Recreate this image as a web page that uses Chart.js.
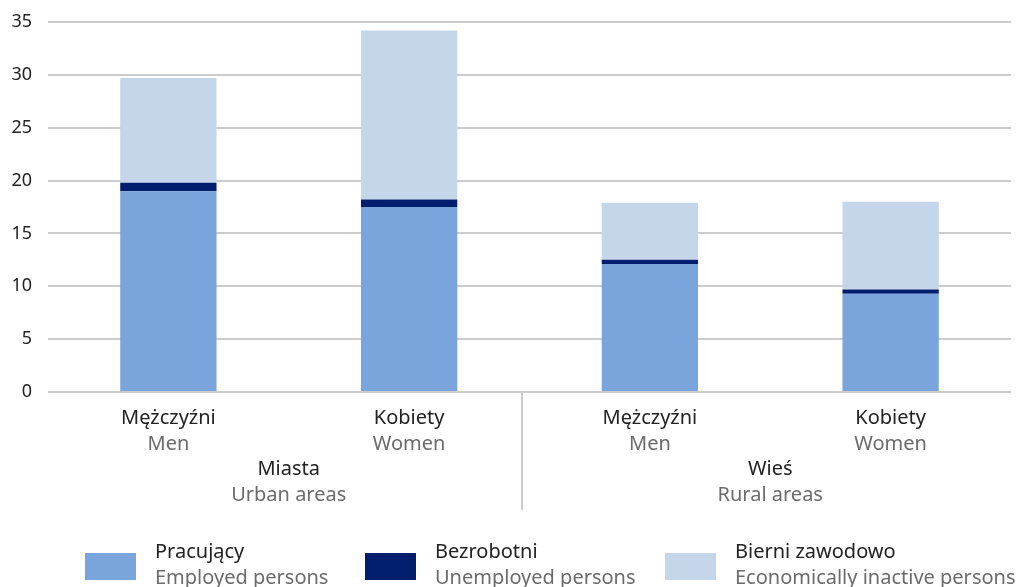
<!DOCTYPE html>
<html lang="pl">
<head>
<meta charset="UTF-8">
<title>Ludność według statusu na rynku pracy</title>
<script src="https://cdn.jsdelivr.net/npm/chart.js"></script>
<style>
  html, body { margin: 0; padding: 0; background: #fff; }
  #wrap { width: 1027px; height: 587px; }
</style>
</head>
<body>
<div id="wrap"><canvas id="myChart"></canvas></div>
<script>
// dane
const kategoriePl = ['Mężczyźni', 'Kobiety', 'Mężczyźni', 'Kobiety'];
const kategorieEn = ['Men', 'Women', 'Men', 'Women'];
const grupyPl = ['Miasta', 'Wieś'];
const grupyEn = ['Urban areas', 'Rural areas'];
const pracujacy = [19.0, 17.5, 12.1, 9.3];
const bezrobotni = [0.8, 0.7, 0.4, 0.4];
const bierni = [9.9, 16.0, 5.4, 8.3];
const seriePl = ['Pracujący', 'Bezrobotni', 'Bierni zawodowo'];
const serieEn = ['Employed persons', 'Unemployed persons', 'Economically inactive persons'];
const yTicks = [0, 5, 10, 15, 20, 25, 30, 35];

const kolory = ['#7aa4dc', '#001d6e', '#c5d6eb'];
const FONT = '"Noto Sans", "Open Sans", sans-serif';
const DARK = '#222222';
const GRAY = '#6b6b6b';

// podpisy osi X, separator grup i legenda
const podpisy = {
    id: 'podpisy',
    afterDraw(chart) {
        const ctx = chart.ctx;
        const x = chart.scales.x;
        const bottom = chart.chartArea.bottom;
        ctx.save();
        ctx.font = '20px ' + FONT;
        ctx.textAlign = 'center';
        ctx.textBaseline = 'middle';
        kategoriePl.forEach((k, i) => {
            const px = x.getPixelForValue(i);
            ctx.fillStyle = DARK;
            ctx.fillText(k, px, bottom + 26);
            ctx.fillStyle = GRAY;
            ctx.fillText(kategorieEn[i], px, bottom + 52);
        });
        grupyPl.forEach((g, j) => {
            const px = (x.getPixelForValue(j * 2) + x.getPixelForValue(j * 2 + 1)) / 2;
            ctx.fillStyle = DARK;
            ctx.fillText(g, px, bottom + 77);
            ctx.fillStyle = GRAY;
            ctx.fillText(grupyEn[j], px, bottom + 103);
        });
        // linia oddzielająca grupy
        const sx = Math.round(x.getPixelForValue(1.47));
        ctx.strokeStyle = '#cccccc';
        ctx.lineWidth = 2;
        ctx.beginPath();
        ctx.moveTo(sx, bottom);
        ctx.lineTo(sx, bottom + 118);
        ctx.stroke();

        // legenda
        const lx = [85, 365, 665];
        ctx.textAlign = 'left';
        seriePl.forEach((s, i) => {
            ctx.fillStyle = kolory[i];
            ctx.fillRect(lx[i], 553, 51, 27);
            ctx.fillStyle = DARK;
            ctx.fillText(s, lx[i] + 70, 552);
            ctx.fillStyle = GRAY;
            ctx.fillText(serieEn[i], lx[i] + 70, 578);
        });
        ctx.restore();
    }
};

function confGrafica() {
    return {
        type: 'bar',
        data: {
            labels: kategoriePl,
            datasets: [
                { label: seriePl[0], data: pracujacy, backgroundColor: kolory[0] },
                { label: seriePl[1], data: bezrobotni, backgroundColor: kolory[1] },
                { label: seriePl[2], data: bierni, backgroundColor: kolory[2] }
            ]
        },
        options: {
            responsive: false,
            animation: false,
            devicePixelRatio: 1,
            layout: { padding: { top: 22, right: 16, left: 0, bottom: 0 } },
            datasets: { bar: { barPercentage: 0.4, categoryPercentage: 1.0 } },
            plugins: { legend: { display: false }, tooltip: { enabled: false } },
            scales: {
                x: {
                    stacked: true,
                    grid: { display: false },
                    border: { display: false },
                    ticks: { display: false },
                    afterFit(s) { s.height = 195; }
                },
                y: {
                    stacked: true,
                    min: 0,
                    max: 35,
                    afterBuildTicks(s) { s.ticks = yTicks.map(v => ({ value: v })); },
                    grid: { color: '#cccccc', lineWidth: 2, drawTicks: false },
                    border: { display: false },
                    ticks: {
                        color: DARK,
                        padding: 16,
                        font: { family: FONT, size: 18 }
                    },
                    afterFit(s) {
                        s.width = 48;
                        s.paddingTop = 0;
                        s.paddingBottom = 0;
                    }
                }
            }
        },
        plugins: [podpisy]
    };
}

const canvas = document.getElementById('myChart');
canvas.width = 1027;
canvas.height = 587;
new Chart(canvas, confGrafica());
</script>
</body>
</html>
